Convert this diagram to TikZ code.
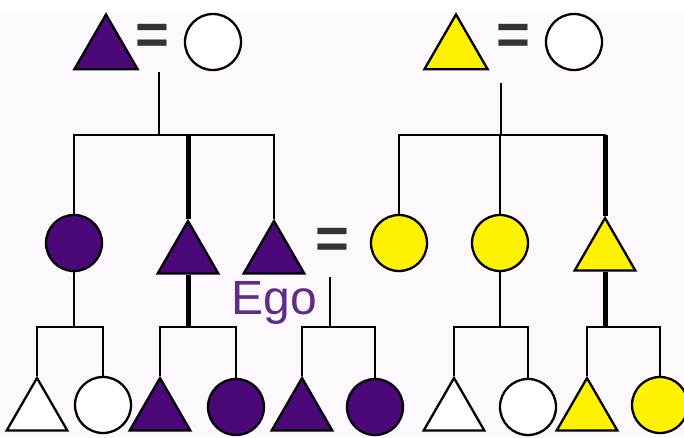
\documentclass[tikz,border=0pt]{standalone}
\usepackage{fontspec}
\setmainfont{Liberation Sans}
\usetikzlibrary{shapes.geometric}
\definecolor{kinpurple}{HTML}{4B0878}
\definecolor{kinyellow}{HTML}{FFF200}
\definecolor{egopurple}{HTML}{5E2D85}
\definecolor{bgpink}{HTML}{FDF8FD}
\definecolor{eqgray}{HTML}{333333}
\tikzset{
  pline/.style={line width=2.6pt},
  kinline/.style={line width=5pt},
  circ/.style={circle,draw,line width=2.3pt,minimum size=56pt,inner sep=0pt},
  tri/.style={regular polygon,regular polygon sides=3,draw,line width=2.3pt,minimum size=70pt,inner sep=0pt},
  eqsign/.style={text=eqgray,inner sep=0pt,font=\fontsize{58}{58}\selectfont\bfseries}
}
\begin{document}
\begin{tikzpicture}[x=1pt,y=-1pt]
\useasboundingbox (0,0) rectangle (684,437);
\fill[white] (0,0) rectangle (684,437);
\fill[bgpink] (0,12) rectangle (684,437);

\node[tri,fill=kinpurple,minimum size=73pt] (gfA) at (106,51) {};
\node[eqsign] (eqA) at (152,39) {=};
\node[circ,fill=white] (gmA) at (213,42) {};
\node[tri,fill=kinyellow,minimum size=73pt] (gfB) at (456,51) {};
\node[eqsign] (eqB) at (513,39) {=};
\node[circ,fill=white] (gmB) at (574,42) {};

\node[circ,fill=kinpurple] (fz) at (74,243) {};
\node[tri,fill=kinpurple] (fb) at (188,256) {};
\node[tri,fill=kinpurple] (ego) at (274,256) {};
\node[eqsign] (eqC) at (332,243) {=};
\node[circ,fill=kinyellow] (wife) at (399,243) {};
\node[circ,fill=kinyellow] (wz) at (500,243) {};
\node[tri,fill=kinyellow] (wb) at (605,253) {};
\node[text=egopurple,anchor=base,inner sep=0pt,font=\fontsize{48}{48}\selectfont] (egolabel) at (274,314) {Ego};

\node[tri,fill=white] (k1) at (37,413) {};
\node[circ,fill=white] (k2) at (103,405) {};
\node[tri,fill=kinpurple] (k3) at (160,413) {};
\node[circ,fill=kinpurple] (k4) at (236,407) {};
\node[tri,fill=kinpurple] (k5) at (302,413) {};
\node[circ,fill=kinpurple] (k6) at (375,407) {};
\node[tri,fill=white] (k7) at (454,413) {};
\node[circ,fill=white] (k8) at (528,407) {};
\node[tri,fill=kinyellow] (k9) at (587,413) {};
\node[circ,fill=kinyellow] (k10) at (660,405) {};

\coordinate (dA) at (159,72);
\coordinate (dB) at (501,83);
\coordinate (dC) at (330,277);
\coordinate (barA) at (159,135);
\coordinate (barB) at (501,135);

\draw[pline] (dA) -- (barA);
\draw[pline] (fz.north) |- (barA) -| (ego.north);
\draw[kinline] (fb.north) -- (fb.north |- barA);
\draw[pline] (dB) -- (barB);
\draw[pline] (wife.north) |- (barB) -| (wz.north);
\draw[pline] (barB) -| (wb.north);
\draw[kinline] (wb.north) -- (wb.north |- barB);

\draw[pline] (fz.south) -- (fz.south |- 0,327);
\draw[pline] (k1.north) |- (fz.south |- 0,327) -| (k2.north);
\draw[kinline] (fb.south) -- (fb.south |- 0,327);
\draw[pline] (k3.north) |- (fb.south |- 0,327) -| (k4.north);
\draw[pline] (dC) -- (dC |- 0,327);
\draw[pline] (k5.north) |- (dC |- 0,327) -| (k6.north);
\draw[pline] (wz.south) -- (wz.south |- 0,327);
\draw[pline] (k7.north) |- (wz.south |- 0,327) -| (k8.north);
\draw[kinline] (wb.south) -- (wb.south |- 0,327);
\draw[pline] (k9.north) |- (wb.south |- 0,327) -| (k10.north);
\end{tikzpicture}
\end{document}
